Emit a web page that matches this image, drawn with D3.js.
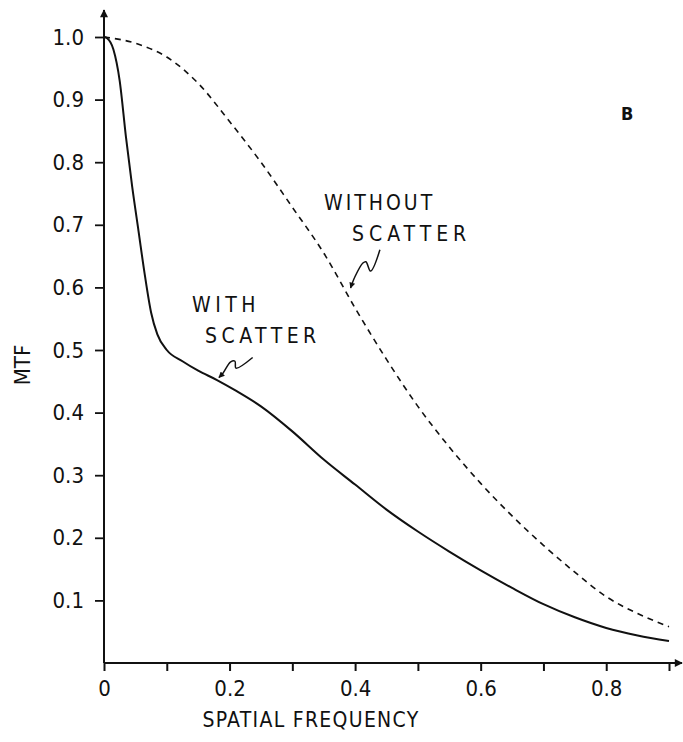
<!DOCTYPE html>
<html>
<head>
<meta charset="utf-8">
<script src="https://cdn.jsdelivr.net/npm/d3@7"></script>
<style>
  html, body { margin: 0; padding: 0; background: #fff; }
  svg text { font-family: "DejaVu Sans Condensed", "DejaVu Sans", sans-serif; font-stretch: condensed; fill: #111; }
</style>
</head>
<body>
<div id="chart"></div>
<script>
// spatial frequency / MTF values
const freqWith = [0, 0.005, 0.015, 0.025, 0.035, 0.045, 0.055, 0.065, 0.075, 0.085, 0.1, 0.125, 0.15, 0.18, 0.21, 0.25, 0.3, 0.35, 0.4, 0.45, 0.5, 0.55, 0.6, 0.65, 0.7, 0.75, 0.8, 0.85, 0.9];
const mtfWith = [1.0, 0.998, 0.98, 0.93, 0.84, 0.76, 0.69, 0.62, 0.56, 0.525, 0.5, 0.482, 0.467, 0.452, 0.435, 0.41, 0.37, 0.325, 0.285, 0.245, 0.21, 0.178, 0.148, 0.12, 0.094, 0.073, 0.056, 0.044, 0.035];
const freqWithout = [0, 0.05, 0.1, 0.15, 0.2, 0.25, 0.3, 0.35, 0.4, 0.45, 0.5, 0.55, 0.6, 0.65, 0.7, 0.75, 0.8, 0.85, 0.9];
const mtfWithout = [1.0, 0.99, 0.968, 0.926, 0.865, 0.8, 0.728, 0.655, 0.567, 0.485, 0.41, 0.345, 0.287, 0.235, 0.188, 0.145, 0.106, 0.079, 0.058];
const xTicks = [0, 0.1, 0.2, 0.3, 0.4, 0.5, 0.6, 0.7, 0.8, 0.9];
const xTickLabels = ['0', '', '0.2', '', '0.4', '', '0.6', '', '0.8', ''];
const yTicks = [0.1, 0.2, 0.3, 0.4, 0.5, 0.6, 0.7, 0.8, 0.9, 1.0];
const yTickLabels = ['0.1', '0.2', '0.3', '0.4', '0.5', '0.6', '0.7', '0.8', '0.9', '1.0'];
// squiggly leader lines of the two notes, in data units (frequency, MTF)
const leaderWithout = [[0.4395, 0.66], [0.4247, 0.626], [0.4172, 0.641], [0.4124, 0.639], [0.3997, 0.617], [0.3928, 0.599]];
const leaderWith = [[0.2368, 0.488], [0.2102, 0.471], [0.2086, 0.482], [0.2018, 0.481], [0.1895, 0.463], [0.1831, 0.456]];

const width = 683, height = 742;
const svg = d3.select('#chart').append('svg')
  .attr('width', width).attr('height', height);

// スケール ---------------------------------------------------------------
const x = d3.scaleLinear().domain([0, 0.9]).range([104, 669]);
const y = d3.scaleLinear().domain([0, 1]).range([663, 37]);

// 矢印マーカー ------------------------------------------------------------
const defs = svg.append('defs');
defs.append('marker').attr('id', 'axisHead')
  .attr('viewBox', '0 0 10 10').attr('refX', 9).attr('refY', 5)
  .attr('markerWidth', 14).attr('markerHeight', 8).attr('markerUnits', 'userSpaceOnUse')
  .attr('orient', 'auto')
  .append('path').attr('d', 'M0,0 L10,5 L0,10 Z').attr('fill', '#111');
defs.append('marker').attr('id', 'noteHead')
  .attr('viewBox', '0 0 10 10').attr('refX', 9).attr('refY', 5)
  .attr('markerWidth', 10).attr('markerHeight', 6).attr('markerUnits', 'userSpaceOnUse')
  .attr('orient', 'auto')
  .append('path').attr('d', 'M0,0 L10,5 L0,10 Z').attr('fill', '#111');

// 軸 ---------------------------------------------------------------------
const xAxis = d3.axisBottom(x).tickValues(xTicks).tickSize(8).tickPadding(9)
  .tickFormat((d, i) => xTickLabels[i]);
const gx = svg.append('g').attr('transform', 'translate(0,' + y(0) + ')').call(xAxis);
gx.attr('font-family', null);
gx.select('.domain').remove();
gx.selectAll('.tick line').attr('stroke', '#111').attr('stroke-width', 2);
gx.selectAll('.tick text').attr('font-size', '22px');

const yAxis = d3.axisLeft(y).tickValues(yTicks).tickSize(9).tickPadding(11)
  .tickFormat((d, i) => yTickLabels[i]);
const gy = svg.append('g').attr('transform', 'translate(' + x(0) + ',0)').call(yAxis);
gy.attr('font-family', null);
gy.select('.domain').remove();
gy.selectAll('.tick line').attr('stroke', '#111').attr('stroke-width', 1.8);
gy.selectAll('.tick text').attr('font-size', '22px');

svg.append('line')
  .attr('x1', x(0)).attr('y1', y(0)).attr('x2', width - 1).attr('y2', y(0))
  .attr('stroke', '#111').attr('stroke-width', 2).attr('marker-end', 'url(#axisHead)');
svg.append('line')
  .attr('x1', x(0)).attr('y1', y(0)).attr('x2', x(0)).attr('y2', 10)
  .attr('stroke', '#111').attr('stroke-width', 2).attr('marker-end', 'url(#axisHead)');

// 軸ラベル -----------------------------------------------------------------
svg.append('text').text('SPATIAL FREQUENCY')
  .attr('x', 311).attr('y', 727).attr('text-anchor', 'middle')
  .attr('font-size', '21px').attr('letter-spacing', '1.3px');
svg.append('text').text('MTF')
  .attr('transform', 'translate(30,' + 365 + ') rotate(-90)')
  .attr('text-anchor', 'middle').attr('font-size', '22px');

// 曲線 -------------------------------------------------------------------
const line = d3.line().x(d => x(d[0])).y(d => y(d[1])).curve(d3.curveMonotoneX);
svg.append('path')
  .datum(freqWithout.map((f, i) => [f, mtfWithout[i]]))
  .attr('d', line).attr('fill', 'none').attr('stroke', '#111')
  .attr('stroke-width', 1.6).attr('stroke-dasharray', '6,5');
svg.append('path')
  .datum(freqWith.map((f, i) => [f, mtfWith[i]]))
  .attr('d', line).attr('fill', 'none').attr('stroke', '#111')
  .attr('stroke-width', 2);

// 注記 -------------------------------------------------------------------
const leader = d3.line().x(d => x(d[0])).y(d => y(d[1])).curve(d3.curveCatmullRom);
const note = (lines, cx, cy, spacing, squiggle) => {
  lines.forEach((t, i) => {
    svg.append('text').text(t)
      .attr('x', cx[i]).attr('y', cy + i * 31)
      .attr('font-size', '21px').attr('letter-spacing', spacing[i] + 'px');
  });
  svg.append('path')
    .attr('d', leader(squiggle))
    .attr('fill', 'none').attr('stroke', '#111').attr('stroke-width', 1.5)
    .attr('marker-end', 'url(#noteHead)');
};
note(['WITHOUT', 'SCATTER'], [324, 352], 210, [3, 5], leaderWithout);
note(['WITH', 'SCATTER'], [192, 205], 312, [4.5, 4.5], leaderWith);

svg.append('text').text('B')
  .attr('x', 621).attr('y', 120)
  .attr('font-family', '"Liberation Sans", Arial, sans-serif')
  .attr('font-size', '18px').attr('font-weight', 'bold');
</script>
</body>
</html>
